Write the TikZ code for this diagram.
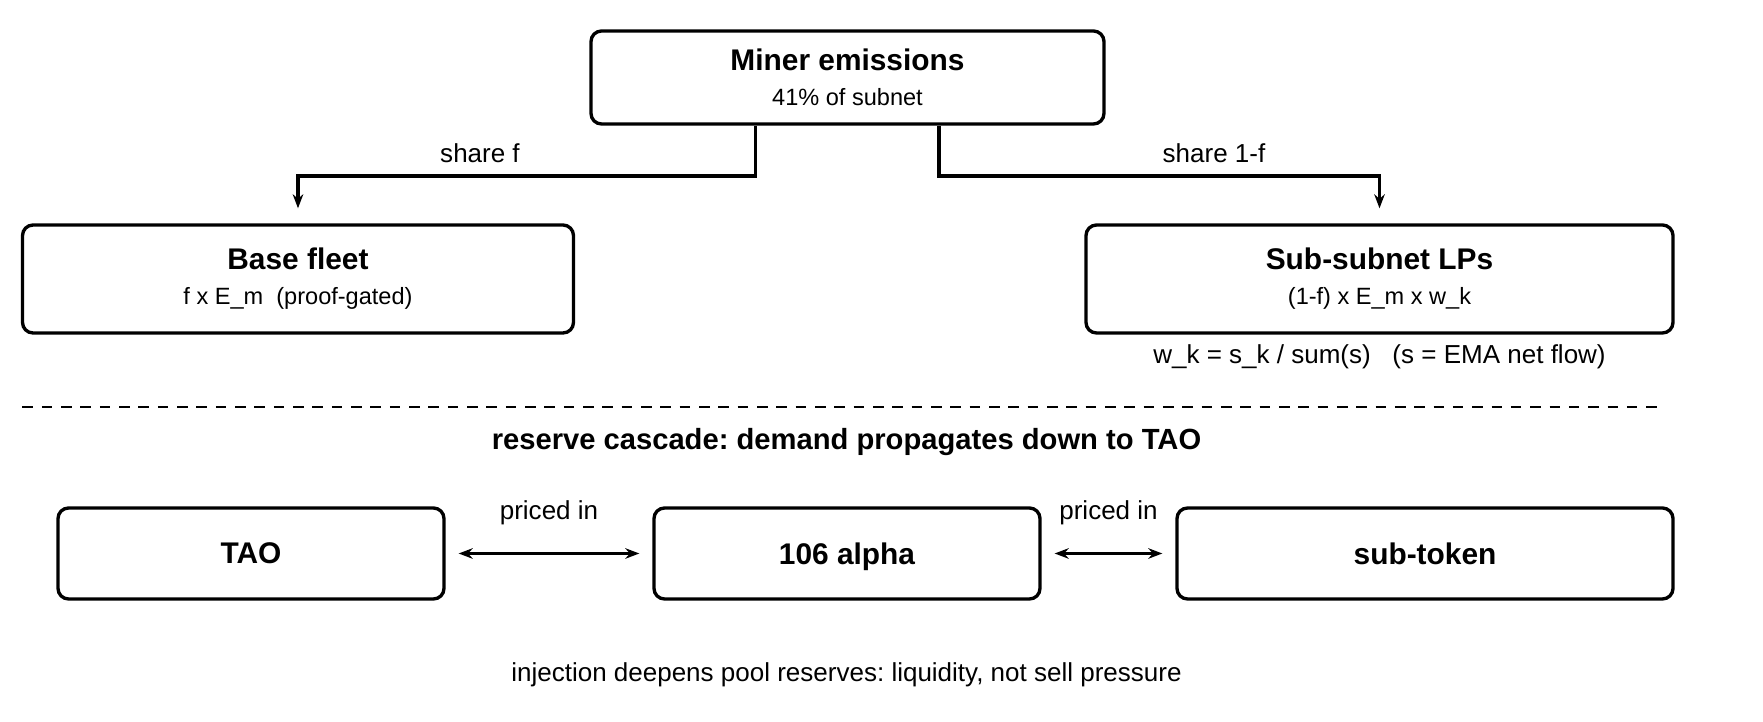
\documentclass[tikz,border=0pt]{standalone}
\usepackage{fontspec}
\setmainfont{Liberation Sans}
\usetikzlibrary{arrows.meta,positioning,calc}
\newcommand\blockhead{\fontsize{17}{20}\selectfont\bfseries}
\newcommand\blocksub{\fontsize{13.4}{16}\selectfont}
\newcommand\blockbody{\fontsize{14.8}{17.8}\selectfont}

\begin{document}
\frenchspacing
\begin{tikzpicture}[
		>={Stealth[length=8pt,width=6pt]},
		block/.style={
			draw,
			line width=1.9pt,
			rounded corners=6pt,
			align=center,
			inner sep=0pt
		},
		coin/.style={
			block,
			font=\blockhead,
			text depth=0pt,
			minimum height=1.82cm
		},
		split/.style={
			->,
			line width=1.9pt,
			shorten >=0.3cm
		},
		link/.style={
			<->,
			line width=1.9pt,
			shorten <=0.26cm,
			shorten >=0.26cm
		},
		cut/.style={
			line width=1.1pt,
			dash pattern=on 6pt off 5pt
		},
		note/.style={
			font=\blockbody
		}
		]
		\useasboundingbox (0,0) rectangle (35.26,14.44);
		% emissions and the two shares
		\node[block,minimum width=10.26cm,minimum height=1.86cm] (miner) at (16.95,12.89) {\blockhead Miner emissions\\[8pt]\blocksub 41\% of subnet};
		\node[block,minimum width=11.02cm,minimum height=2.16cm] (base) at (5.96,8.86) {\blockhead Base fleet\\[8pt]\blocksub f x E\_m\ \ (proof-gated)};
		\node[block,minimum width=11.74cm,minimum height=2.16cm] (lp) at (27.59,8.86) {\blockhead Sub-subnet LPs\\[8pt]\blocksub (1-f) x E\_m x w\_k};
		\node[note,below=0.07cm of lp] (weights) {w\_k = s\_k / sum(s)\ \ \ (s = EMA net flow)};
		\draw[split] ([xshift=-1.84cm]miner.south) -- ++(0,-1.01) -| (base.north);
		\draw[split] ([xshift=1.83cm]miner.south) -- ++(0,-1.01) -| (lp.north);
		\node[note] (sharef) at (9.6,11.38) {share f};
		\node[note] (sharerest) at (24.28,11.38) {share 1-f};
		% cascade
		\coordinate (cutL) at (0.45,6.3);
		\coordinate (cutR) at (33.28,6.3);
		\draw[cut] (cutL) -- (cutR);
		\node[font=\fontsize{16.6}{20}\selectfont\bfseries] (cascade) at (16.93,5.6) {reserve cascade: demand propagates down to TAO};
		\node[coin,minimum width=7.72cm] (tao) at (5.02,3.37) {TAO};
		\node[coin,minimum width=7.72cm] (alpha) at (16.94,3.37) {106 alpha};
		\node[coin,minimum width=9.92cm] (subtoken) at (28.5,3.37) {sub-token};
		\draw[link] (tao) -- node[note,above=0.42cm] {priced in} (alpha);
		\draw[link] (alpha) -- node[note,above=0.42cm] {priced in} (subtoken);
		\node[note] (injection) at (16.93,0.95) {injection deepens pool reserves: liquidity, not sell pressure};
		\end{tikzpicture}
\end{document}
